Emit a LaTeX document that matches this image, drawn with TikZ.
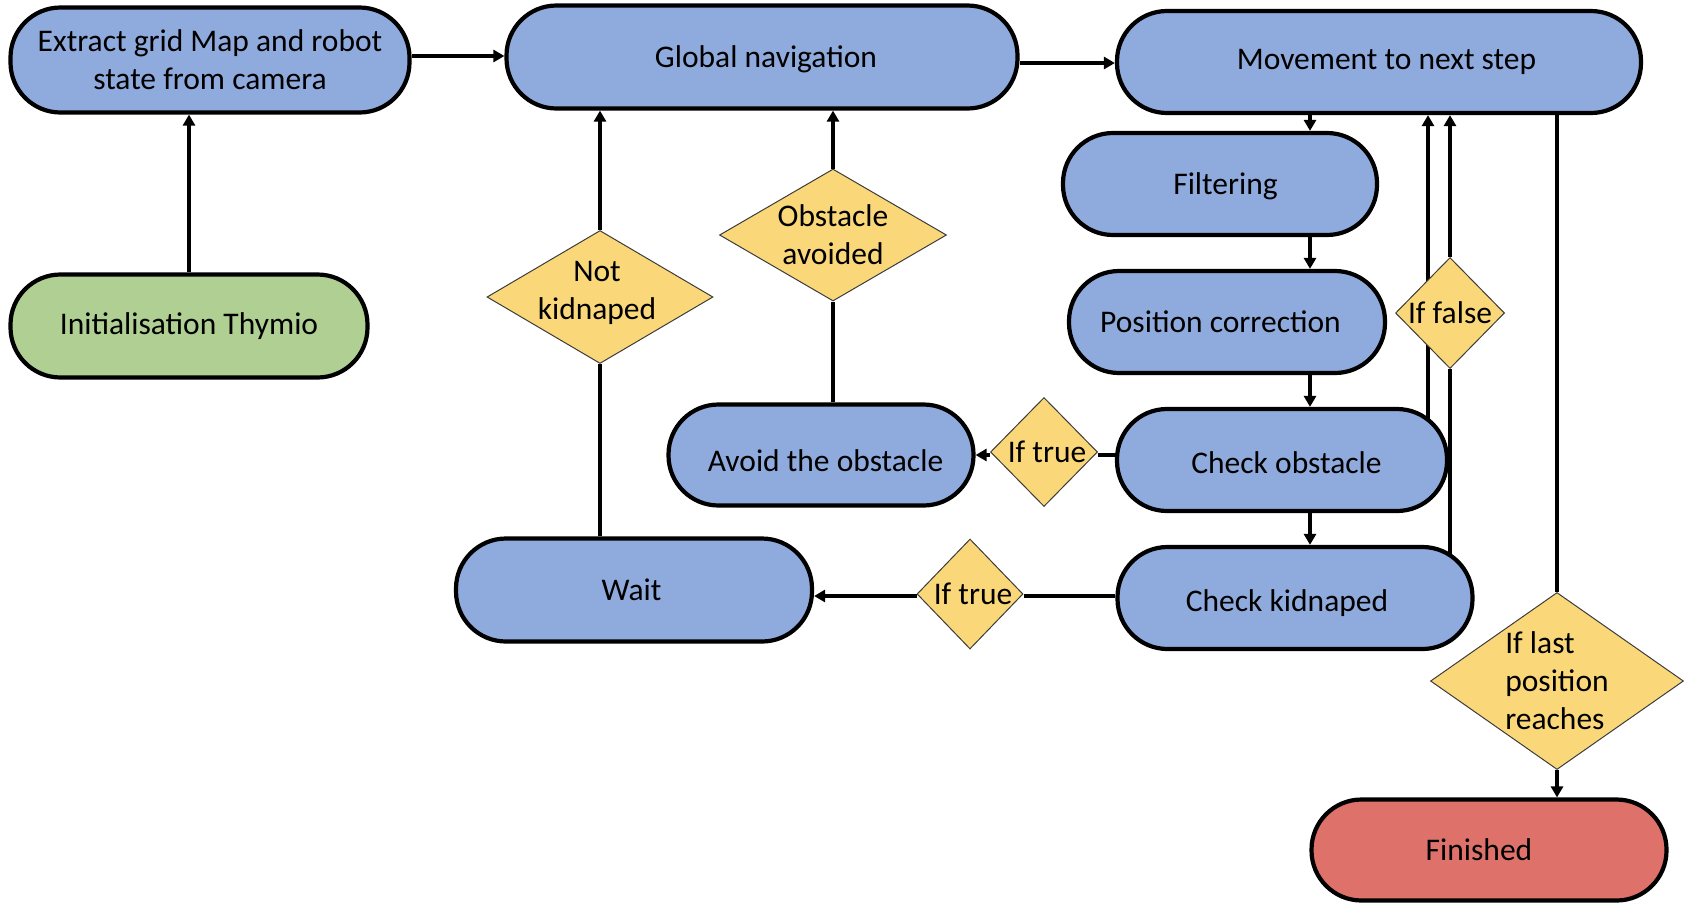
\documentclass[tikz,border=0pt]{standalone}
\usepackage{fontspec}
\setmainfont{Carlito}
\usetikzlibrary{shapes.geometric,arrows.meta,backgrounds}
\definecolor{nblue}{RGB}{143,170,220}
\definecolor{ngreen}{RGB}{176,207,146}
\definecolor{nred}{RGB}{222,114,106}
\definecolor{nyellow}{RGB}{250,216,122}
\definecolor{dborder}{RGB}{60,60,60}
\newcommand{\lowr}[2]{\raisebox{-#1}[\height][\depth]{#2}}
\begin{document}
\begin{tikzpicture}[x=1pt,y=-1pt,
  txt/.style={font=\fontsize{31.5}{38}\selectfont},
  proc/.style={draw=black, line width=4.2pt, rounded corners=50pt, fill=nblue, inner sep=0pt, minimum height=102pt, align=center, txt},
  dec/.style={diamond, draw=dborder, line width=1pt, fill=nyellow, inner sep=0pt},
  arr/.style={line width=3.4pt, -{Triangle[length=11pt,width=12pt]}},
  ln/.style={line width=3.4pt},
]
\useasboundingbox (0,0) rectangle (1700,922);

% process nodes
\node[proc, minimum width=399pt, minimum height=105pt] (extract) at (210,60) {Extract grid Map and robot\\state from camera};
\node[proc, minimum width=511pt, minimum height=103pt] (global) at (762,57) {\hspace*{8pt}\lowr{2pt}{Global navigation}};
\node[proc, minimum width=524pt] (move) at (1379,62) {\hspace*{15pt}Movement to next step};
\node[proc, minimum width=314pt] (filt) at (1220,184) {\hspace*{11pt}\lowr{2pt}{Filtering}};
\node[proc, minimum width=316pt] (pos) at (1227,322) {\hspace*{-13pt}Position correction};
\node[proc, minimum width=330pt] (cobs) at (1282,460) {\hspace*{9pt}\lowr{3pt}{Check obstacle}};
\node[proc, minimum width=355pt] (ckid) at (1295,598) {\hspace*{-16pt}\lowr{5pt}{Check kidnaped}};
\node[proc, fill=nred, minimum width=355pt, minimum height=101pt] (fin) at (1489,850) {\hspace*{-20pt}Finished};
\node[proc, fill=ngreen, minimum width=357pt, minimum height=103pt] (init) at (189,326) {Initialisation Thymio};
\node[proc, minimum width=305pt, minimum height=101pt] (avoid) at (821,455) {\hspace*{9pt}\lowr{6pt}{Avoid the obstacle}};
\node[proc, minimum width=356pt, minimum height=103pt] (wait) at (634,590) {\hspace*{-5pt}Wait};

% decision nodes
\node[dec, minimum width=226pt, minimum height=133pt, label={[txt, align=center, yshift=4pt, xshift=-3pt]center:Not\\kidnaped}] (nk) at (600,297) {};
\node[dec, minimum width=227pt, minimum height=132pt, label={[txt, align=center]center:Obstacle\\avoided}] (oa) at (833,235) {};
\node[dec, minimum width=107pt, minimum height=109pt, label={[txt, xshift=3pt]center:If true}] (it1) at (1044,452) {};
\node[dec, minimum width=106pt, minimum height=110pt, label={[txt, xshift=3pt]center:If true}] (it2) at (970,594) {};
\node[dec, minimum width=109pt, minimum height=111pt, label={[txt]center:If false}] (ifalse) at (1450,313) {};
\node[dec, minimum width=253pt, minimum height=177pt, label={[txt, align=left]center:If last\\position\\reaches}] (last) at (1557,681) {};

% connectors
\draw[arr] (init.north) -- (init.north |- extract.south);
\draw[arr] ([yshift=4pt]extract.east) -- ([yshift=4pt]extract.east -| global.west);
\draw[arr] ([yshift=-6pt]global.east) -- ([yshift=-6pt]global.east -| move.west);
\draw[arr] (move.south -| 1310,0) -- (filt.north -| 1310,0);
\draw[arr] (filt.south -| 1310,0) -- (pos.north -| 1310,0);
\draw[arr] (pos.south -| 1310,0) -- (cobs.north -| 1310,0);
\draw[arr] (cobs.south -| 1310,0) -- (ckid.north -| 1310,0);

\draw[ln] (cobs.west |- avoid.east) -- (it1.east |- avoid.east);
\draw[arr] (it1.west |- avoid.east) -- (avoid.east);

\draw[ln] (ckid.west |- 0,596) -- (it2.east |- 0,596);
\draw[arr] (it2.west |- 0,596) -- (wait.east |- 0,596);

\draw[ln] (oa.south |- avoid.north) -- (oa.south);
\draw[arr] (oa.north) -- (oa.north |- global.south);

\draw[ln] (nk.south |- wait.north) -- (nk.south);
\draw[arr] (nk.north) -- (nk.north |- global.south);

\begin{pgfonlayer}{background}
\draw[arr] (cobs.center -| 1428,0) -- (move.south -| 1428,0);
\draw[ln] (ckid.center -| ifalse.south) -- (ifalse.south);
\end{pgfonlayer}
\draw[arr] (ifalse.north) -- (ifalse.north |- move.south);

\draw[ln] (move.south -| last.north) -- (last.north);
\draw[arr] (last.south) -- (last.south |- fin.north);
\end{tikzpicture}
\end{document}
